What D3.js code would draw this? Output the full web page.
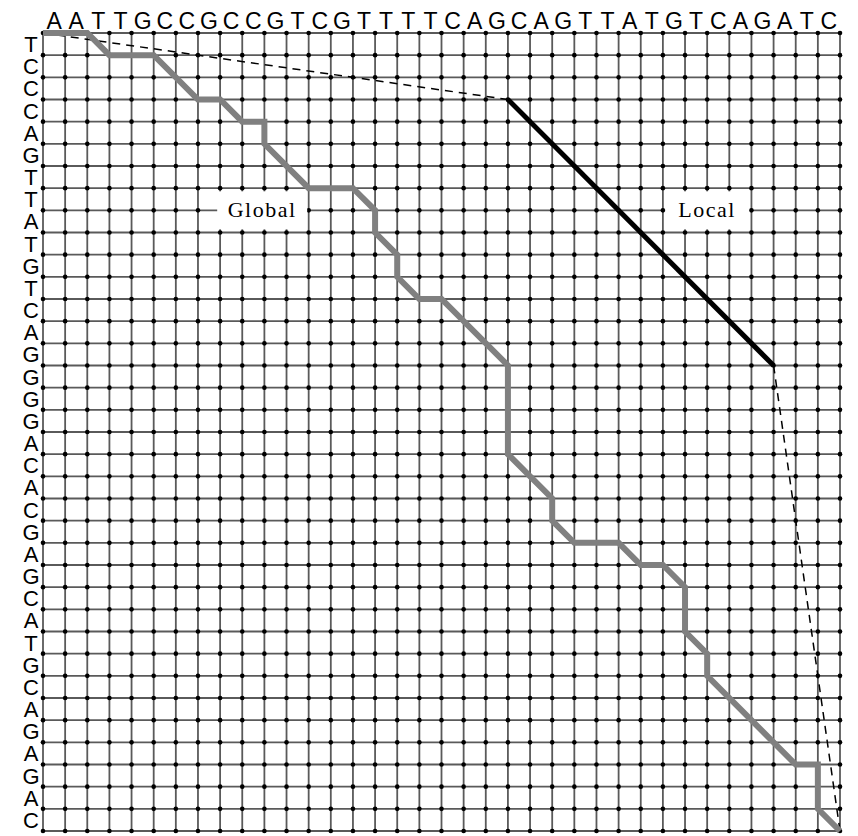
<!DOCTYPE html>
<html>
<head>
<meta charset="utf-8">
<script src="https://cdn.jsdelivr.net/npm/d3@7"></script>
<style>
  body { margin: 0; background: #fff; }
</style>
</head>
<body>
<div id="plot"></div>
<script>
// sequences along the top and down the left side
const topSeq  = "AATTGCCGCCGTCGTTTTCAGCAGTTATGTCAGATC".split("");
const leftSeq = "TCCCAGTTATGTCAGGGGACACGAGCATGCAGAGAC".split("");

// alignment paths as [column, row] grid nodes
const globalPath = [[0,0],[2,0],[3,1],[5,1],[7,3],[8,3],[9,4],[10,4],[10,5],[12,7],[14,7],
  [15,8],[15,9],[16,10],[16,11],[17,12],[18,12],[21,15],[21,19],[23,21],[23,22],[24,23],
  [26,23],[27,24],[28,24],[29,25],[29,27],[30,28],[30,29],[34,33],[35,33],[35,35],[36,36]];
const localPath = [[21,3],[33,15]];
const dashedPaths = [[[0,0],[21,3]], [[33,15],[36,36]]];

// labels: text, column, row
const labels = [["Global", 9.9, 8], ["Local", 30, 8]];

const width = 858, height = 836;
const n = topSeq.length;

const svg = d3.select("#plot").append("svg")
  .attr("width", width)
  .attr("height", height);

const x = d3.scaleLinear().domain([0, n]).range([43, 840]);
const y = d3.scaleLinear().domain([0, leftSeq.length]).range([33, 831]);

const idx = d3.range(n + 1);
const jdx = d3.range(leftSeq.length + 1);

// grid
svg.append("g").selectAll("line.v")
  .data(idx).enter().append("line")
  .attr("x1", d => x(d)).attr("x2", d => x(d))
  .attr("y1", y(0)).attr("y2", y(leftSeq.length))
  .attr("stroke", "#5a5a5a").attr("stroke-width", 1.8);

svg.append("g").selectAll("line.h")
  .data(jdx).enter().append("line")
  .attr("y1", d => y(d)).attr("y2", d => y(d))
  .attr("x1", x(0) - 2).attr("x2", x(n))
  .attr("stroke", "#5a5a5a").attr("stroke-width", 1.8);

const nodes = d3.cross(idx, jdx);
svg.append("g").selectAll("circle")
  .data(nodes).enter().append("circle")
  .attr("cx", d => x(d[0])).attr("cy", d => y(d[1]))
  .attr("r", 2.3).attr("fill", "#000");

// sequence letters
svg.append("g").selectAll("text")
  .data(topSeq).enter().append("text")
  .attr("x", (d, i) => x(i + 0.5))
  .attr("y", 29)
  .attr("text-anchor", "middle")
  .style("font-family", "Liberation Sans, Arial, sans-serif")
  .style("font-size", "23px")
  .text(d => d);

svg.append("g").selectAll("text")
  .data(leftSeq).enter().append("text")
  .attr("x", 31)
  .attr("y", (d, i) => y(i + 0.5) + 8)
  .attr("text-anchor", "middle")
  .style("font-family", "Liberation Sans, Arial, sans-serif")
  .style("font-size", "22px")
  .text(d => d);

// labels with white boxes over the grid
const lab = svg.append("g").selectAll("g")
  .data(labels).enter().append("g");

lab.append("rect")
  .attr("x", d => x(d[1]) - (d[0] === "Global" ? 45 : 42))
  .attr("y", d => y(d[2]) - 19)
  .attr("width", d => d[0] === "Global" ? 90 : 84)
  .attr("height", 38)
  .attr("fill", "#fff");

lab.append("text")
  .attr("x", d => x(d[1]))
  .attr("y", d => y(d[2]) + 7)
  .attr("text-anchor", "middle")
  .style("font-family", "Liberation Serif, Times New Roman, serif")
  .style("font-size", "22px")
  .style("letter-spacing", "1.5px")
  .text(d => d[0]);

const line = d3.line().x(d => x(d[0])).y(d => y(d[1]));

svg.append("g").selectAll("path")
  .data(dashedPaths).enter().append("path")
  .attr("d", line)
  .attr("fill", "none")
  .attr("stroke", "#000")
  .attr("stroke-width", 1.5)
  .attr("stroke-dasharray", "8,6");

svg.append("path")
  .datum(globalPath)
  .attr("d", line)
  .attr("fill", "none")
  .attr("stroke", "#808080")
  .attr("stroke-width", 6)
  .attr("stroke-linejoin", "miter");

svg.append("path")
  .datum(localPath)
  .attr("d", line)
  .attr("fill", "none")
  .attr("stroke", "#000")
  .attr("stroke-width", 5);
</script>
</body>
</html>
